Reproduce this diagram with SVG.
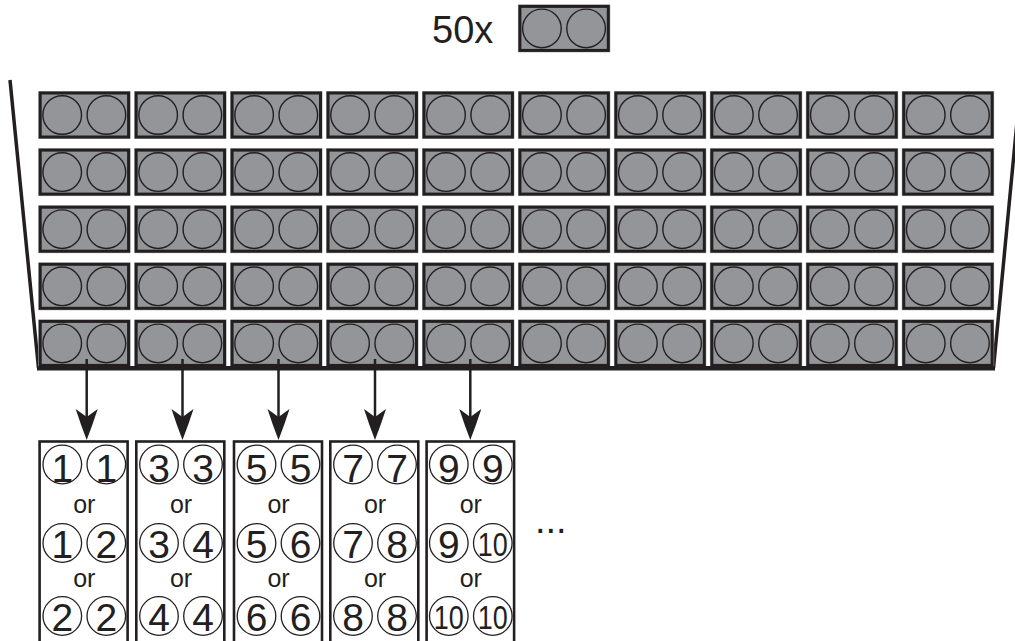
<svg xmlns="http://www.w3.org/2000/svg" xmlns:xlink="http://www.w3.org/1999/xlink" width="1015" height="641" viewBox="0 0 1015 641">
<style>
.num{font-family:"Liberation Sans",Arial,sans-serif;font-size:39px;fill:#231f20;text-anchor:middle}
.ten{font-family:"Liberation Sans",Arial,sans-serif;font-size:33px;fill:#231f20;text-anchor:middle}
.or{font-family:"Liberation Sans",Arial,sans-serif;font-size:25px;fill:#231f20;text-anchor:middle}
.lbl{font-family:"Liberation Sans",Arial,sans-serif;font-size:38px;fill:#231f20}
.bc{fill:none;stroke:#231f20;stroke-width:1.3}
.box{fill:#fff;stroke:#231f20;stroke-width:2.6}
.cc{fill:none;stroke:#231f20;stroke-width:1.4}
.edge{fill:none;stroke:#231f20;stroke-linecap:butt}
.arrow{fill:none;stroke:#231f20;stroke-width:2.5;marker-end:url(#ah)}
</style>
<defs>
<g id="cellShape">
<rect x="0" y="0" width="92.4" height="48" fill="#abadb0"/>
<rect x="2" y="2" width="88.4" height="44" fill="#939598" stroke="#231f20" stroke-width="3"/>
<circle class="cc" cx="24" cy="24" r="19.3"/>
<circle class="cc" cx="68.2" cy="24" r="19.3"/>
</g>
<marker id="ah" markerUnits="userSpaceOnUse" markerWidth="36" markerHeight="26" viewBox="-33 -13 36 26" refX="-15" refY="0" orient="auto">
<path d="M0,0 Q-14,-5.5 -31,-11 L-23,0 L-31,11 Q-14,5.5 0,0 Z" fill="#231f20"/>
</marker>
</defs>

<g id="legend">
<text class="lbl" x="432" y="43.3">50x</text>
<g id="legend-cell" transform="translate(517.9,4.4)"><use xlink:href="#cellShape"/></g>
</g>

<g id="tray">
<path class="edge" d="M10,80 L38.5,368" stroke-width="3.5"/>
<path class="edge" d="M1021,80 L993.5,368" stroke-width="3.5"/>
</g>

<g id="grid">
<g id="r1">
<g id="c1-1" transform="translate(38.2,91)"><use xlink:href="#cellShape"/></g>
<g id="c1-2" transform="translate(134.15,91)"><use xlink:href="#cellShape"/></g>
<g id="c1-3" transform="translate(230.1,91)"><use xlink:href="#cellShape"/></g>
<g id="c1-4" transform="translate(326.05,91)"><use xlink:href="#cellShape"/></g>
<g id="c1-5" transform="translate(422,91)"><use xlink:href="#cellShape"/></g>
<g id="c1-6" transform="translate(517.95,91)"><use xlink:href="#cellShape"/></g>
<g id="c1-7" transform="translate(613.9,91)"><use xlink:href="#cellShape"/></g>
<g id="c1-8" transform="translate(709.85,91)"><use xlink:href="#cellShape"/></g>
<g id="c1-9" transform="translate(805.8,91)"><use xlink:href="#cellShape"/></g>
<g id="c1-10" transform="translate(901.75,91)"><use xlink:href="#cellShape"/></g>
</g>
<g id="r2">
<g id="c2-1" transform="translate(38.2,148.1)"><use xlink:href="#cellShape"/></g>
<g id="c2-2" transform="translate(134.15,148.1)"><use xlink:href="#cellShape"/></g>
<g id="c2-3" transform="translate(230.1,148.1)"><use xlink:href="#cellShape"/></g>
<g id="c2-4" transform="translate(326.05,148.1)"><use xlink:href="#cellShape"/></g>
<g id="c2-5" transform="translate(422,148.1)"><use xlink:href="#cellShape"/></g>
<g id="c2-6" transform="translate(517.95,148.1)"><use xlink:href="#cellShape"/></g>
<g id="c2-7" transform="translate(613.9,148.1)"><use xlink:href="#cellShape"/></g>
<g id="c2-8" transform="translate(709.85,148.1)"><use xlink:href="#cellShape"/></g>
<g id="c2-9" transform="translate(805.8,148.1)"><use xlink:href="#cellShape"/></g>
<g id="c2-10" transform="translate(901.75,148.1)"><use xlink:href="#cellShape"/></g>
</g>
<g id="r3">
<g id="c3-1" transform="translate(38.2,205.2)"><use xlink:href="#cellShape"/></g>
<g id="c3-2" transform="translate(134.15,205.2)"><use xlink:href="#cellShape"/></g>
<g id="c3-3" transform="translate(230.1,205.2)"><use xlink:href="#cellShape"/></g>
<g id="c3-4" transform="translate(326.05,205.2)"><use xlink:href="#cellShape"/></g>
<g id="c3-5" transform="translate(422,205.2)"><use xlink:href="#cellShape"/></g>
<g id="c3-6" transform="translate(517.95,205.2)"><use xlink:href="#cellShape"/></g>
<g id="c3-7" transform="translate(613.9,205.2)"><use xlink:href="#cellShape"/></g>
<g id="c3-8" transform="translate(709.85,205.2)"><use xlink:href="#cellShape"/></g>
<g id="c3-9" transform="translate(805.8,205.2)"><use xlink:href="#cellShape"/></g>
<g id="c3-10" transform="translate(901.75,205.2)"><use xlink:href="#cellShape"/></g>
</g>
<g id="r4">
<g id="c4-1" transform="translate(38.2,262.3)"><use xlink:href="#cellShape"/></g>
<g id="c4-2" transform="translate(134.15,262.3)"><use xlink:href="#cellShape"/></g>
<g id="c4-3" transform="translate(230.1,262.3)"><use xlink:href="#cellShape"/></g>
<g id="c4-4" transform="translate(326.05,262.3)"><use xlink:href="#cellShape"/></g>
<g id="c4-5" transform="translate(422,262.3)"><use xlink:href="#cellShape"/></g>
<g id="c4-6" transform="translate(517.95,262.3)"><use xlink:href="#cellShape"/></g>
<g id="c4-7" transform="translate(613.9,262.3)"><use xlink:href="#cellShape"/></g>
<g id="c4-8" transform="translate(709.85,262.3)"><use xlink:href="#cellShape"/></g>
<g id="c4-9" transform="translate(805.8,262.3)"><use xlink:href="#cellShape"/></g>
<g id="c4-10" transform="translate(901.75,262.3)"><use xlink:href="#cellShape"/></g>
</g>
<g id="r5">
<g id="c5-1" transform="translate(38.2,319.4)"><use xlink:href="#cellShape"/></g>
<g id="c5-2" transform="translate(134.15,319.4)"><use xlink:href="#cellShape"/></g>
<g id="c5-3" transform="translate(230.1,319.4)"><use xlink:href="#cellShape"/></g>
<g id="c5-4" transform="translate(326.05,319.4)"><use xlink:href="#cellShape"/></g>
<g id="c5-5" transform="translate(422,319.4)"><use xlink:href="#cellShape"/></g>
<g id="c5-6" transform="translate(517.95,319.4)"><use xlink:href="#cellShape"/></g>
<g id="c5-7" transform="translate(613.9,319.4)"><use xlink:href="#cellShape"/></g>
<g id="c5-8" transform="translate(709.85,319.4)"><use xlink:href="#cellShape"/></g>
<g id="c5-9" transform="translate(805.8,319.4)"><use xlink:href="#cellShape"/></g>
<g id="c5-10" transform="translate(901.75,319.4)"><use xlink:href="#cellShape"/></g>
</g>
</g>

<g id="tray-bottom">
<path class="edge" d="M37,368.3 L995,368.3" stroke-width="4.6"/>
</g>

<g id="connectors">
<path class="arrow" d="M86.7,359 L86.7,425"/>
<path class="arrow" d="M182.5,359 L182.5,425"/>
<path class="arrow" d="M278.5,359 L278.5,425"/>
<path class="arrow" d="M375,359 L375,425"/>
<path class="arrow" d="M470.3,359 L470.3,425"/>
</g>

<g id="box1">
<rect class="box" x="39.6" y="441.5" width="88" height="220"/>
<circle class="bc" cx="62.3" cy="464.5" r="19.3"/><circle class="bc" cx="106.3" cy="464.5" r="19.3"/>
<text class="num" x="62.3" y="481.5">1</text><text class="num" x="106.3" y="481.5">1</text>
<text class="or" x="84.3" y="513">or</text>
<circle class="bc" cx="62.3" cy="543" r="19.3"/><circle class="bc" cx="106.3" cy="543" r="19.3"/>
<text class="num" x="62.3" y="557.5">1</text><text class="num" x="106.3" y="557.5">2</text>
<text class="or" x="84.3" y="587">or</text>
<circle class="bc" cx="62.3" cy="616" r="19.3"/><circle class="bc" cx="106.3" cy="616" r="19.3"/>
<text class="num" x="62.3" y="630.5">2</text><text class="num" x="106.3" y="630.5">2</text>
</g>

<g id="box2">
<rect class="box" x="136.3" y="441.5" width="88" height="220"/>
<circle class="bc" cx="159" cy="464.5" r="19.3"/><circle class="bc" cx="203" cy="464.5" r="19.3"/>
<text class="num" x="159" y="481.5">3</text><text class="num" x="203" y="481.5">3</text>
<text class="or" x="181" y="513">or</text>
<circle class="bc" cx="159" cy="543" r="19.3"/><circle class="bc" cx="203" cy="543" r="19.3"/>
<text class="num" x="159" y="557.5">3</text><text class="num" x="203" y="557.5">4</text>
<text class="or" x="181" y="587">or</text>
<circle class="bc" cx="159" cy="616" r="19.3"/><circle class="bc" cx="203" cy="616" r="19.3"/>
<text class="num" x="159" y="630.5">4</text><text class="num" x="203" y="630.5">4</text>
</g>

<g id="box3">
<rect class="box" x="234" y="441.5" width="88" height="220"/>
<circle class="bc" cx="256.5" cy="464.5" r="19.3"/><circle class="bc" cx="300.5" cy="464.5" r="19.3"/>
<text class="num" x="256.5" y="481.5">5</text><text class="num" x="300.5" y="481.5">5</text>
<text class="or" x="278.5" y="513">or</text>
<circle class="bc" cx="256.5" cy="543" r="19.3"/><circle class="bc" cx="300.5" cy="543" r="19.3"/>
<text class="num" x="256.5" y="557.5">5</text><text class="num" x="300.5" y="557.5">6</text>
<text class="or" x="278.5" y="587">or</text>
<circle class="bc" cx="256.5" cy="616" r="19.3"/><circle class="bc" cx="300.5" cy="616" r="19.3"/>
<text class="num" x="256.5" y="630.5">6</text><text class="num" x="300.5" y="630.5">6</text>
</g>

<g id="box4">
<rect class="box" x="330.3" y="441.5" width="88" height="220"/>
<circle class="bc" cx="353" cy="464.5" r="19.3"/><circle class="bc" cx="397" cy="464.5" r="19.3"/>
<text class="num" x="353" y="481.5">7</text><text class="num" x="397" y="481.5">7</text>
<text class="or" x="375" y="513">or</text>
<circle class="bc" cx="353" cy="543" r="19.3"/><circle class="bc" cx="397" cy="543" r="19.3"/>
<text class="num" x="353" y="557.5">7</text><text class="num" x="397" y="557.5">8</text>
<text class="or" x="375" y="587">or</text>
<circle class="bc" cx="353" cy="616" r="19.3"/><circle class="bc" cx="397" cy="616" r="19.3"/>
<text class="num" x="353" y="630.5">8</text><text class="num" x="397" y="630.5">8</text>
</g>

<g id="box5">
<rect class="box" x="426.6" y="441.5" width="87.5" height="220"/>
<circle class="bc" cx="448.8" cy="464.5" r="19.3"/><circle class="bc" cx="492.8" cy="464.5" r="19.3"/>
<text class="num" x="448.8" y="481.5">9</text><text class="num" x="492.8" y="481.5">9</text>
<text class="or" x="470.8" y="513">or</text>
<circle class="bc" cx="448.8" cy="543" r="19.3"/><circle class="bc" cx="492.8" cy="543" r="19.3"/>
<text class="num" x="448.8" y="557.5">9</text><text class="ten" x="492.8" y="555.5" textLength="30" lengthAdjust="spacingAndGlyphs">10</text>
<text class="or" x="470.8" y="587">or</text>
<circle class="bc" cx="448.8" cy="616" r="19.3"/><circle class="bc" cx="492.8" cy="616" r="19.3"/>
<text class="ten" x="448.8" y="628.5" textLength="30" lengthAdjust="spacingAndGlyphs">10</text><text class="ten" x="492.8" y="628.5" textLength="30" lengthAdjust="spacingAndGlyphs">10</text>
</g>

<g id="more">
<text class="lbl" x="535" y="532.5">...</text>
</g>
</svg>
